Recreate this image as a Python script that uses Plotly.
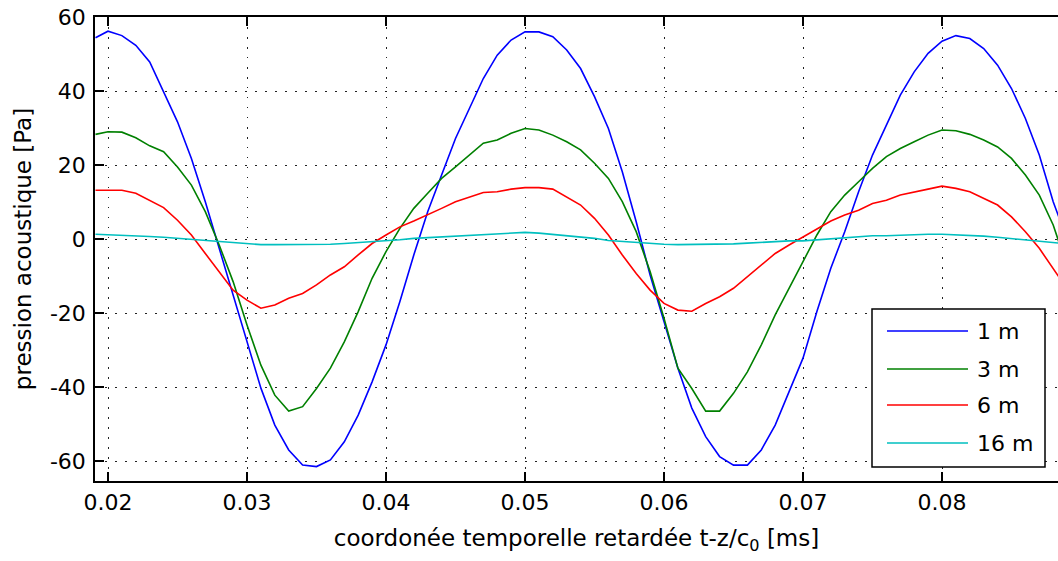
import plotly.graph_objects as go

# time samples (ms)
t = [0.0191, 0.020, 0.021, 0.022, 0.023, 0.024, 0.025, 0.026, 0.027, 0.028, 0.029,
     0.030, 0.031, 0.032, 0.033, 0.034, 0.035, 0.036, 0.037, 0.038, 0.039,
     0.040, 0.041, 0.042, 0.043, 0.044, 0.045, 0.046, 0.047, 0.048, 0.049,
     0.050, 0.051, 0.052, 0.053, 0.054, 0.055, 0.056, 0.057, 0.058, 0.059,
     0.060, 0.061, 0.062, 0.063, 0.064, 0.065, 0.066, 0.067, 0.068, 0.069,
     0.070, 0.071, 0.072, 0.073, 0.074, 0.075, 0.076, 0.077, 0.078, 0.079,
     0.080, 0.081, 0.082, 0.083, 0.084, 0.085, 0.086, 0.087, 0.088, 0.0884]

p_1m = [54.4, 56.2, 55.0, 52.4, 47.9, 40.0, 31.7, 21.8, 10.1, -2.5, -15.1,
        -28.2, -40.3, -50.3, -57.0, -61.1, -61.5, -59.7, -54.8, -47.6, -38.6,
        -28.6, -16.9, -4.3, 7.4, 17.3, 27.2, 35.3, 43.4, 49.7, 53.8,
        56.0, 56.0, 54.7, 51.1, 46.1, 38.5, 29.9, 18.2, 4.7, -9.7,
        -22.3, -34.9, -45.7, -53.4, -58.8, -61.1, -61.1, -57.0, -50.3, -41.3,
        -32.2, -19.6, -7.9, 2.0, 12.8, 22.7, 30.8, 38.9, 45.2, 50.2,
        53.5, 55.0, 54.2, 51.5, 47.0, 40.7, 32.6, 22.7, 10.1, 6.0]

p_3m = [28.3, 29.0, 28.9, 27.4, 25.2, 23.6, 19.5, 14.6, 7.4, -1.6, -11.5,
        -23.2, -34.1, -42.2, -46.5, -45.3, -40.4, -34.9, -27.8, -19.6, -10.6,
        -3.4, 2.9, 8.3, 12.4, 16.4, 19.5, 22.7, 25.9, 26.8, 28.6,
        29.9, 29.5, 28.1, 26.3, 24.1, 20.5, 16.4, 10.1, 2.0, -8.8,
        -21.4, -34.9, -40.4, -46.5, -46.5, -41.7, -35.9, -28.6, -20.5, -13.3,
        -6.1, 1.1, 7.4, 11.9, 15.5, 19.1, 22.3, 24.5, 26.3, 28.1,
        29.5, 29.3, 28.3, 26.8, 24.9, 21.8, 17.3, 11.9, 3.8, -0.7]

p_6m = [13.2, 13.2, 13.2, 12.4, 10.5, 8.5, 5.1, 1.1, -3.9, -8.8, -13.8,
        -16.5, -18.7, -17.8, -16.0, -14.7, -12.4, -9.7, -7.5, -4.3, -1.2,
        1.1, 3.3, 4.9, 6.5, 8.3, 10.1, 11.4, 12.6, 12.8, 13.5,
        13.9, 13.9, 13.5, 11.4, 9.2, 5.6, 1.1, -4.3, -9.3, -13.8,
        -17.4, -19.2, -19.5, -17.4, -15.6, -13.3, -10.2, -7.0, -3.9, -1.6,
        0.6, 2.9, 4.9, 6.5, 7.8, 9.6, 10.5, 11.9, 12.8, 13.5,
        14.3, 13.7, 12.8, 11.0, 9.2, 6.0, 2.0, -2.5, -7.9, -10.2]

p_16m = [1.3, 1.2, 1.1, 0.9, 0.7, 0.5, 0.2, 0.0, -0.4, -0.7, -1.0,
         -1.4, -1.5, -1.5, -1.5, -1.5, -1.5, -1.4, -1.2, -1.0, -0.8,
         -0.5, -0.2, 0.2, 0.4, 0.5, 0.7, 0.9, 1.1, 1.3, 1.5,
         1.8, 1.6, 1.3, 1.0, 0.7, 0.2, -0.4, -0.7, -1.0, -1.2,
         -1.4, -1.5, -1.5, -1.5, -1.4, -1.3, -1.1, -0.9, -0.6, -0.5,
         -0.5, -0.2, 0.0, 0.3, 0.5, 0.9, 0.9, 1.1, 1.3, 1.3,
         1.3, 1.2, 1.1, 0.8, 0.5, 0.1, -0.3, -0.6, -0.9, -1.1]

series_names = ["1 m", "3 m", "6 m", "16 m"]
series_values = [p_1m, p_3m, p_6m, p_16m]
series_colors = ["#0000ff", "#008000", "#ff0000", "#00bfbf"]

x_ticks = [0.02, 0.03, 0.04, 0.05, 0.06, 0.07, 0.08]
x_ticklabels = ["0.02", "0.03", "0.04", "0.05", "0.06", "0.07", "0.08"]
y_ticks = [-60, -40, -20, 0, 20, 40, 60]
y_ticklabels = ["-60", "-40", "-20", "0", "20", "40", "60"]

FONT = "DejaVu Sans, Liberation Sans, sans-serif"
FS_TICK = 22
FS_TITLE = 23

fig = go.Figure()
for name, vals, col in zip(series_names, series_values, series_colors):
    fig.add_trace(go.Scatter(x=t, y=vals, mode="lines", name=name,
                             line=dict(color=col, width=1.6), showlegend=False))

# page body margin is removed in post_script, so figure coords = page coords
W, H = 1058, 561
L, R, T, B = 95, 1058, 17, 481

def px(xp):
    return (xp - L) / (R - L)

def py(yp):
    return (B - yp) / (B - T)

shapes = [dict(type="rect", xref="paper", yref="paper",
               x0=px(872), x1=px(1045), y0=py(467), y1=py(309),
               line=dict(color="black", width=1.5), fillcolor="white", layer="above")]
annotations = []
legend_rows = [331, 369, 405, 443]
for name, col, yrow in zip(series_names, series_colors, legend_rows):
    shapes.append(dict(type="line", xref="paper", yref="paper",
                       x0=px(887), x1=px(968), y0=py(yrow), y1=py(yrow),
                       line=dict(color=col, width=1.6), layer="above"))
    annotations.append(dict(xref="paper", yref="paper", x=px(975), y=py(yrow),
                            text=name, showarrow=False, xanchor="left", yanchor="middle",
                            font=dict(family=FONT, size=FS_TICK, color="black")))

grid_dash = "1.5px,8.5px"
fig.update_layout(
    width=W, height=H,
    margin=dict(l=L, r=W - R, t=T, b=H - B, pad=0),
    paper_bgcolor="white", plot_bgcolor="white",
    font=dict(family=FONT, size=FS_TICK, color="black"),
    shapes=shapes, annotations=annotations,
    xaxis=dict(range=[0.019065, 0.088345], tickvals=x_ticks, ticktext=x_ticklabels,
               ticks="inside", ticklen=9, tickwidth=1.5, tickcolor="black",
               showline=True, linecolor="black", linewidth=1.5, mirror="ticks",
               showgrid=True, gridcolor="#222", gridwidth=1.3, griddash=grid_dash,
               zeroline=False, ticklabelstandoff=1, automargin=False,
               ticklabeloverflow="allow",
               tickfont=dict(family=FONT, size=FS_TICK),
               title=dict(text="coordonée temporelle retardée t-z/c<sub>0</sub> [ms]",
                          font=dict(family=FONT, size=FS_TITLE), standoff=16)),
    yaxis=dict(range=[-65.4, 60.03], tickvals=y_ticks, ticktext=y_ticklabels,
               ticks="inside", ticklen=9, tickwidth=1.5, tickcolor="black",
               showline=True, linecolor="black", linewidth=1.5, mirror=False,
               showgrid=True, gridcolor="#222", gridwidth=1.3, griddash=grid_dash,
               zeroline=False, ticklabelstandoff=3, automargin=False,
               ticklabeloverflow="allow",
               tickfont=dict(family=FONT, size=FS_TICK),
               title=dict(text="pression acoustique [Pa]",
                          font=dict(family=FONT, size=FS_TITLE), standoff=12)),
)

fig.write_html("out.html",
               config={"displayModeBar": False},
               post_script="document.body.style.margin='0';document.body.style.overflow='hidden';")
